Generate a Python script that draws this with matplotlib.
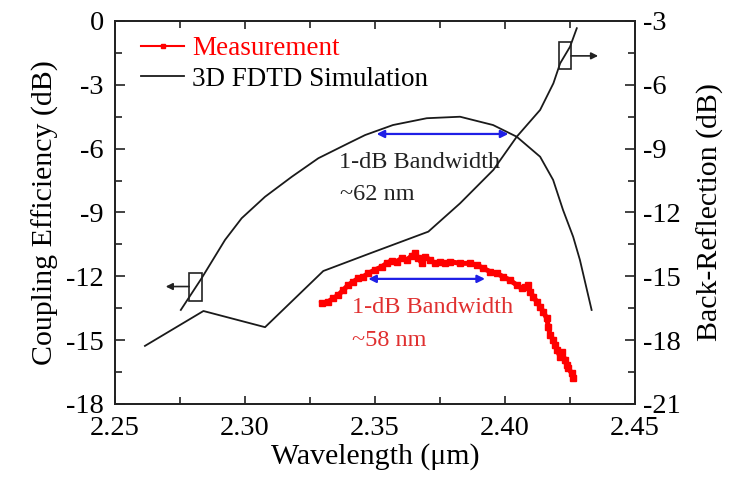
import matplotlib
matplotlib.use("Agg")
import matplotlib.pyplot as plt
from matplotlib.patches import Rectangle
from matplotlib.ticker import MultipleLocator

plt.rcParams['font.family'] = ['Liberation Serif', 'DejaVu Serif']

# Measured coupling efficiency (dB)
meas_wl = [2.3295, 2.3320, 2.3340, 2.3359, 2.3378, 2.3397, 2.3417, 2.3436, 2.3455,
           2.3474, 2.3500, 2.3526, 2.3545, 2.3564, 2.3583, 2.3603, 2.3622, 2.3641,
           2.3654, 2.3667, 2.3680, 2.3692, 2.3712, 2.3731, 2.3750, 2.3769, 2.3788,
           2.3827, 2.3865, 2.3891, 2.3917, 2.3942, 2.3968, 2.3993, 2.4019, 2.4045,
           2.4064, 2.4077, 2.4090, 2.4096, 2.4109, 2.4122, 2.4135, 2.4147, 2.4160,
           2.4167, 2.4173, 2.4186, 2.4192, 2.4199, 2.4212, 2.4218, 2.4231, 2.4237,
           2.4243, 2.4257, 2.4263]
meas_ce = [-13.27, -13.19, -13.03, -12.88, -12.64, -12.41, -12.25, -12.09, -12.02,
           -11.86, -11.70, -11.55, -11.39, -11.26, -11.31, -11.15, -11.23, -11.04,
           -10.92, -11.15, -11.39, -11.08, -11.23, -11.39, -11.31, -11.39, -11.31,
           -11.39, -11.39, -11.47, -11.62, -11.78, -11.86, -12.02, -12.18, -12.41,
           -12.56, -12.49, -12.41, -12.72, -12.96, -13.19, -13.43, -13.66, -13.97,
           -14.37, -14.76, -14.99, -15.23, -15.46, -15.77, -15.54, -15.93, -16.17,
           -16.32, -16.56, -16.79]

# 3D FDTD simulated coupling efficiency (dB)
sim_wl = [2.2753, 2.2833, 2.2923, 2.2987, 2.3077, 2.3180, 2.3282, 2.3397, 2.3462,
          2.3569, 2.3699, 2.3827, 2.3954, 2.4045, 2.4135, 2.4185, 2.4223, 2.4262,
          2.4288, 2.4333]
sim_ce = [-13.58, -12.09, -10.29, -9.27, -8.26, -7.32, -6.45, -5.75, -5.36,
          -4.89, -4.57, -4.50, -4.89, -5.44, -6.38, -7.47, -8.88, -10.14,
          -11.23, -13.58]

# 3D FDTD simulated back-reflection (dB)
br_wl = [2.2615, 2.2840, 2.3077, 2.3301, 2.3481, 2.3705, 2.3827, 2.3955, 2.4045,
         2.4135, 2.4186, 2.4212, 2.4250, 2.4276]
br_db = [-18.27, -16.63, -17.39, -14.75, -13.92, -12.90, -11.57, -10.00, -8.44,
         -7.18, -5.93, -4.99, -4.21, -3.34]

# 1-dB bandwidth markers: (start, end, level)
bw_sim = (2.3506, 2.4013, -5.31)
bw_meas = (2.3474, 2.3923, -12.12)

fig = plt.figure(figsize=(7.29, 4.79), dpi=100)
ax = fig.add_axes([0.1578, 0.1566, 0.7133, 0.7996])
ax2 = ax.twinx()

red = '#ff0000'
ax.plot(meas_wl, meas_ce, color=red, lw=3.6, marker='s', ms=4, mec=red,
        mfc=red, label='Measurement', zorder=3)
ax.plot(sim_wl, sim_ce, color='#1a1a1a', lw=1.3, label='3D FDTD Simulation')
ax2.plot(br_wl, br_db, color='#1a1a1a', lw=1.3)

ax.set_xlim(2.25, 2.45)
ax.set_ylim(-18, 0)
ax2.set_ylim(-21, -3)

ax.xaxis.set_major_locator(MultipleLocator(0.05))
ax.xaxis.set_minor_locator(MultipleLocator(0.025))
ax.yaxis.set_major_locator(MultipleLocator(3))
ax.yaxis.set_minor_locator(MultipleLocator(1.5))
ax2.yaxis.set_major_locator(MultipleLocator(3))
ax2.yaxis.set_minor_locator(MultipleLocator(1.5))
ax.xaxis.set_major_formatter(matplotlib.ticker.FormatStrFormatter('%.2f'))
ax.yaxis.set_major_formatter(matplotlib.ticker.FormatStrFormatter('%d'))
ax2.yaxis.set_major_formatter(matplotlib.ticker.FormatStrFormatter('%d'))

for a in (ax, ax2):
    for s in a.spines.values():
        s.set_linewidth(1.3)
        s.set_color('#222222')
ax.tick_params(axis='x', which='both', direction='in', top=True, bottom=True,
               labelsize=20.5, pad=9, width=1.2, color='#222222')
ax.tick_params(axis='x', which='major', length=6)
ax.tick_params(axis='x', which='minor', length=5)
ax.tick_params(axis='y', which='both', direction='in', left=True, right=False,
               labelsize=20.5, pad=8, width=1.2, color='#222222')
ax.tick_params(axis='y', which='major', length=7)
ax.tick_params(axis='y', which='minor', length=5)
ax2.tick_params(axis='y', which='both', direction='in', right=True,
                labelsize=20.5, pad=6, width=1.2, color='#222222')
ax2.tick_params(axis='y', which='major', length=7)
ax2.tick_params(axis='y', which='minor', length=5)

ax.set_xlabel('Wavelength (μm)', fontsize=21.5, labelpad=1)
ax.set_ylabel('Coupling Efficiency (dB)', fontsize=21.5, labelpad=5)
ax2.set_ylabel('Back-Reflection (dB)', fontsize=21.5, labelpad=11)

# Bandwidth arrows and notes
blue = '#1f1fe6'
for (x0, x1, lvl), a in ((bw_sim, ax), (bw_meas, ax)):
    a.annotate('', xy=(x1, lvl), xytext=(x0, lvl),
               arrowprops=dict(arrowstyle='<|-|>', color=blue, lw=1.6,
                               mutation_scale=11, shrinkA=0, shrinkB=0),
               zorder=4)
ax.text(2.3362, -6.9, '1-dB Bandwidth', fontsize=17.5, color='#222222', va='baseline')
ax.text(2.3365, -8.41, '~62 nm', fontsize=17.5, color='#222222', va='baseline')
ax.text(2.3410, -13.72, '1-dB Bandwidth', fontsize=17.5, color='#e03030', va='baseline')
ax.text(2.3412, -15.27, '~58 nm', fontsize=17.5, color='#e03030', va='baseline')

# Axis indicators: box on each curve with an arrow toward its axis
ax.add_patch(Rectangle((2.2785, -13.16), 0.0051, 1.33, fill=False, lw=1.2,
                       ec='#222222', zorder=5))
ax.annotate('', xy=(2.2695, -12.48), xytext=(2.2785, -12.48),
            arrowprops=dict(arrowstyle='-|>', color='#222222', lw=1.2,
                            mutation_scale=10, shrinkA=0, shrinkB=0))
ax2.add_patch(Rectangle((2.4208, -5.27), 0.0046, 1.30, fill=False, lw=1.2,
                        ec='#222222', zorder=5))
ax2.annotate('', xy=(2.4358, -4.64), xytext=(2.4254, -4.64),
             arrowprops=dict(arrowstyle='-|>', color='#222222', lw=1.2,
                             mutation_scale=10, shrinkA=0, shrinkB=0),
             annotation_clip=False)

leg = ax.legend(loc='upper left', bbox_to_anchor=(0.05, 0.96), frameon=False,
                fontsize=19.5, handlelength=1.6, handletextpad=0.28,
                labelspacing=0.2, borderaxespad=0, borderpad=0, numpoints=1)
leg.get_texts()[0].set_color(red)
leg.get_lines()[0].set_linewidth(1.5)
leg.get_lines()[0].set_markersize(3)

fig.savefig('out.png', dpi=100)
